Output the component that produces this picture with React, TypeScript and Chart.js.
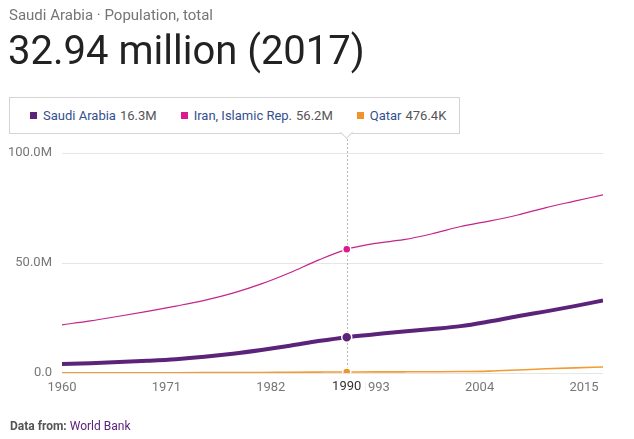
import React, { useEffect, useRef } from "react";
import { Chart, registerables } from "chart.js";

Chart.register(...registerables);

// ---- Data (population in millions) ----
const YEARS = [1960, 1963, 1966, 1969, 1972, 1975, 1978, 1981, 1984, 1987, 1990, 1993, 1996, 1999, 2002, 2005, 2008, 2011, 2014, 2017];
const SAUDI = [4.09, 4.45, 4.95, 5.55, 6.3, 7.4, 8.8, 10.5, 12.4, 14.5, 16.3, 17.6, 18.9, 20.0, 21.3, 23.4, 25.8, 28.0, 30.4, 32.94];
const IRAN = [21.9, 23.7, 25.8, 28.0, 30.4, 33.0, 36.3, 40.5, 45.6, 51.3, 56.2, 58.9, 60.6, 63.3, 66.6, 69.0, 71.8, 75.2, 78.1, 81.0];
const QATAR = [0.047, 0.065, 0.085, 0.105, 0.14, 0.17, 0.2, 0.26, 0.34, 0.41, 0.476, 0.5, 0.53, 0.58, 0.65, 0.87, 1.36, 1.9, 2.35, 2.72];

const SERIES_NAMES = ["Saudi Arabia", "Iran, Islamic Rep.", "Qatar"];
const LEGEND_VALUES = ["16.3M", "56.2M", "476.4K"];
const LINE_COLORS = ["#5b2379", "#c4248b", "#f29c33"];
const MARKER_COLORS = ["#5b2379", "#d81b90", "#f0932b"];
const LINE_WIDTHS = [4, 1.2, 1.6];
const MARKER_RADII = [5, 4, 4];

const X_TICKS = [1960, 1971, 1982, 1993, 2004, 2015];
const Y_TICKS = [0, 50, 100];
const HIGHLIGHT_YEAR = 1990;

const TITLE = "Saudi Arabia · Population, total";
const HEADLINE = "32.94 million (2017)";

const FONT = "Roboto, 'Noto Sans', sans-serif";

const hoverPlugin = {
  id: "hoverLine",
  beforeDatasetsDraw(chart: any) {
    const ctx = chart.ctx;
    const x = Math.round(chart.scales.x.getPixelForValue(HIGHLIGHT_YEAR)) + 0.5;
    ctx.save();
    ctx.strokeStyle = "#b8b8b8";
    ctx.lineWidth = 1;
    ctx.setLineDash([2, 2]);
    ctx.beginPath();
    ctx.moveTo(x, 139);
    ctx.lineTo(x, chart.chartArea.bottom);
    ctx.stroke();
    ctx.restore();
  },
  afterDraw(chart: any) {
    const ctx = chart.ctx;
    const xs = chart.scales.x;
    const x = xs.getPixelForValue(HIGHLIGHT_YEAR);
    ctx.save();
    ctx.font = "13px " + FONT;
    const label = String(HIGHLIGHT_YEAR);
    const w = ctx.measureText(label).width;
    const y = xs.top + 7;
    ctx.fillStyle = "#ffffff";
    ctx.fillRect(x - w / 2 - 4, y, w + 8, 17);
    ctx.fillStyle = "#333333";
    ctx.textAlign = "center";
    ctx.textBaseline = "top";
    ctx.fillText(label, x, y);
    ctx.restore();
  },
};

function ChartCanvas() {
  const ref = useRef<HTMLCanvasElement | null>(null);
  useEffect(() => {
    if (!ref.current) return;
    const seriesData = [SAUDI, IRAN, QATAR];
    const datasets = seriesData.map((vals, i) => ({
      label: SERIES_NAMES[i],
      data: YEARS.map((y, j) => ({ x: y, y: vals[j] })),
      borderColor: LINE_COLORS[i],
      borderWidth: LINE_WIDTHS[i],
      tension: 0.4,
      cubicInterpolationMode: "monotone" as const,
      fill: false,
      pointRadius: (c: any) => (YEARS[c.dataIndex] === HIGHLIGHT_YEAR ? MARKER_RADII[i] : 0),
      pointBackgroundColor: MARKER_COLORS[i],
      pointBorderColor: "#ffffff",
      pointBorderWidth: 1.5,
      pointHoverRadius: 0,
    }));
    const chart = new Chart(ref.current, {
      type: "line",
      data: { datasets },
      plugins: [hoverPlugin],
      options: {
        animation: false,
        responsive: false,
        devicePixelRatio: 1,
        events: [],
        layout: { padding: { top: 153, right: 31, left: 0, bottom: 0 } },
        plugins: { legend: { display: false }, tooltip: { enabled: false } },
        scales: {
          x: {
            type: "linear",
            min: 1960,
            max: 2017,
            afterBuildTicks: (s: any) => {
              s.ticks = X_TICKS.map((v) => ({ value: v }));
            },
            afterFit: (s: any) => {
              s.height = 66;
            },
            grid: { display: false, drawTicks: false },
            border: { display: false },
            ticks: {
              autoSkip: false,
              maxRotation: 0,
              padding: 7,
              color: "#777777",
              font: { family: FONT, size: 13 },
              callback: (v: any) => String(v),
            },
          },
          y: {
            type: "linear",
            min: 0,
            max: 100,
            afterBuildTicks: (s: any) => {
              s.ticks = Y_TICKS.map((v) => ({ value: v }));
            },
            afterFit: (s: any) => {
              s.width = 62;
            },
            grid: { color: "#e6e6e6", drawTicks: false },
            border: { display: false },
            ticks: {
              padding: 10,
              color: "#777777",
              font: { family: FONT, size: 13 },
              callback: (v: any) => (v === 0 ? "0.0" : Number(v).toFixed(1) + "M"),
            },
          },
        },
      } as any,
    });
    return () => chart.destroy();
  }, []);
  return <canvas ref={ref} width={634} height={439} style={{ position: "absolute", left: 0, top: 0, width: 634, height: 439 }} />;
}

export default function App() {
  return (
    <div style={{ position: "absolute", left: 0, top: 0, width: 634, height: 439, background: "#fff", overflow: "hidden", fontFamily: FONT }}>
      <ChartCanvas />
      <div style={{ position: "absolute", left: 9, top: 6, fontSize: 15, lineHeight: "18px", color: "#757575", whiteSpace: "nowrap" }}>{TITLE}</div>
      <div style={{ position: "absolute", left: 8, top: 30, fontSize: 40, lineHeight: "42px", color: "#222", whiteSpace: "nowrap" }}>{HEADLINE}</div>
      <div
        style={{
          position: "absolute",
          left: 9,
          top: 97,
          width: 451,
          height: 37,
          border: "1px solid #d4d4d4",
          boxSizing: "border-box",
          background: "#fff",
        }}
      />
      <div
        style={{
          position: "absolute",
          left: 342,
          top: 128,
          width: 9,
          height: 9,
          background: "#fff",
          borderRight: "1px solid #d4d4d4",
          borderBottom: "1px solid #d4d4d4",
          transform: "rotate(45deg)",
          boxSizing: "border-box",
        }}
      />
      <div style={{ position: "absolute", left: 30, top: 108, display: "flex", gap: 24, fontSize: 13, lineHeight: "15px", whiteSpace: "nowrap" }}>
        {SERIES_NAMES.map((n, i) => (
          <div key={n} style={{ display: "flex", alignItems: "center" }}>
            <span style={{ display: "inline-block", width: 7, height: 7, background: MARKER_COLORS[i], marginRight: 6 }} />
            <span style={{ color: "#34508f" }}>{n}</span>
            <span style={{ color: "#555", marginLeft: 4 }}>{LEGEND_VALUES[i]}</span>
          </div>
        ))}
      </div>
      <div style={{ position: "absolute", left: 10, top: 419, fontSize: 12, lineHeight: "14px", whiteSpace: "nowrap" }}>
        <span style={{ color: "#555", fontWeight: 700 }}>Data from: </span>
        <span style={{ color: "#5b2379" }}>World Bank</span>
      </div>
    </div>
  );
}
